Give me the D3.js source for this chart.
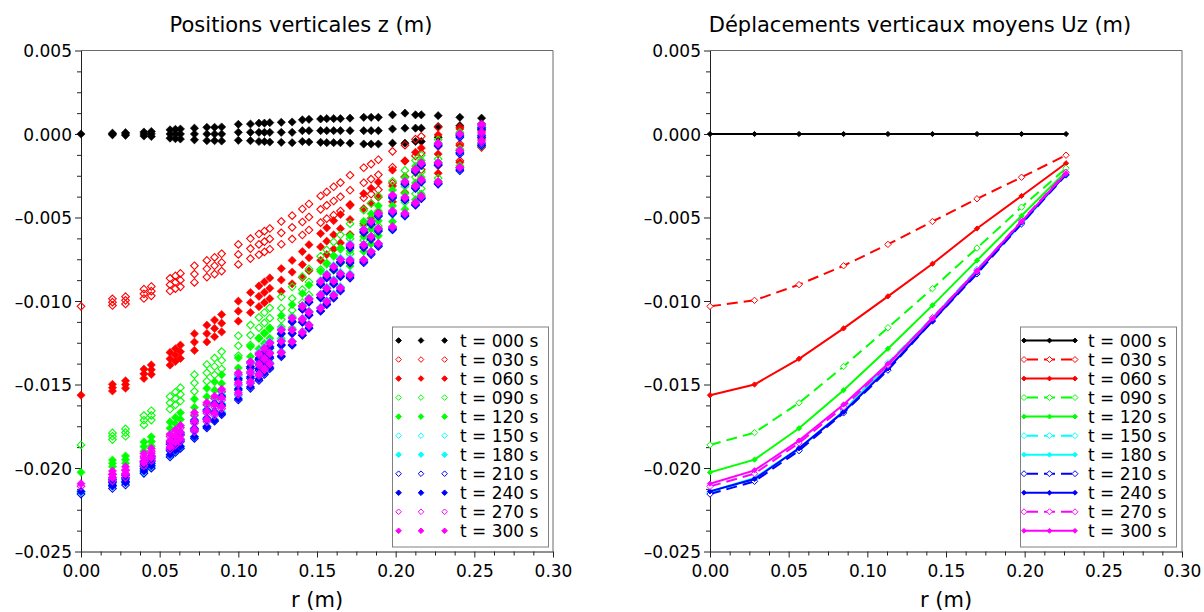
<!DOCTYPE html>
<html><head><meta charset="utf-8">
<script src="https://cdn.jsdelivr.net/npm/d3@7"></script>
<style>body{margin:0;background:#fff}svg{display:block}</style>
</head><body><svg id="c" width="1204" height="612"></svg>
<script>
// ---------- data ----------
const seriesLabels = ["t = 000 s","t = 030 s","t = 060 s","t = 090 s","t = 120 s","t = 150 s","t = 180 s","t = 210 s","t = 240 s","t = 270 s","t = 300 s"];
const xTickValues = [0,0.05,0.10,0.15,0.20,0.25,0.30];
const xTickLabels = ["0.00","0.05","0.10","0.15","0.20","0.25","0.30"];
const yTickValues = [0.005,0,-0.005,-0.010,-0.015,-0.020,-0.025];
const yTickLabels = ["0.005","0.000","–0.005","–0.010","–0.015","–0.020","–0.025"];

// left chart: radial columns (m) and vertical positions (mm): column middle and half spread
const rCols = [0,0.02,0.0283,0.04,0.0447,0.0566,0.06,0.0632,0.0721,0.08,0.0849,0.0894,0.1,0.1077,0.1131,0.1166,0.12,0.1273,0.1342,0.1407,0.1449,0.1523,0.1562,0.1606,0.1649,0.171,0.1797,0.1844,0.189,0.198,0.2059,0.2126,0.2163,0.227,0.2408,0.2546];
const zMid000 = [0,0,0,0,0,0,0,0,0,0,0,0,0.1,0.1,0.1,0.1,0.1,0.1,0.1,0.2,0.2,0.2,0.2,0.2,0.2,0.2,0.2,0.2,0.2,0.3,0.35,0.35,0.35,0.45,0.5,0.6];
const zMid030 = [-10.32,-10.07,-9.96,-9.57,-9.41,-9.02,-8.88,-8.75,-8.39,-8.07,-7.89,-7.69,-7.21,-6.86,-6.61,-6.44,-6.28,-5.92,-5.59,-5.27,-4.97,-4.51,-4.27,-4.01,-3.76,-3.37,-2.92,-2.7,-2.44,-1.99,-1.62,-1.31,-1.14,-0.74,-0.6,-0.3];
const zMid060 = [-15.64,-15.19,-15.0,-14.36,-14.11,-13.46,-13.24,-13.04,-12.46,-11.95,-11.64,-11.33,-10.61,-10.09,-9.72,-9.48,-9.24,-8.74,-8.27,-7.82,-7.41,-6.76,-6.42,-6.04,-5.67,-5.12,-4.47,-4.15,-3.78,-3.11,-2.56,-2.1,-1.84,-1.2,-0.7,-0.2];
const zMid090 = [-18.62,-18.10,-17.88,-17.14,-16.85,-16.1,-15.84,-15.59,-14.91,-14.30,-13.92,-13.55,-12.68,-12.04,-11.6,-11.31,-11.03,-10.43,-9.85,-9.32,-8.86,-8.12,-7.74,-7.31,-6.89,-6.27,-5.46,-5.06,-4.61,-3.78,-3.13,-2.58,-2.27,-1.5,-0.9,-0.2];
const zMid120 = [-20.26,-19.72,-19.5,-18.72,-18.41,-17.62,-17.35,-17.09,-16.37,-15.73,-15.34,-14.94,-14.01,-13.33,-12.86,-12.54,-12.23,-11.55,-10.92,-10.33,-9.83,-9.02,-8.6,-8.14,-7.68,-7.0,-6.13,-5.68,-5.2,-4.3,-3.56,-2.93,-2.59,-1.7,-1.0,-0.2];
const zMid150 = [-21.46,-20.9,-20.66,-19.94,-19.64,-18.9,-18.63,-18.37,-17.66,-17.02,-16.6,-16.14,-15.05,-14.26,-13.7,-13.37,-13.05,-12.34,-11.69,-11.07,-10.64,-9.58,-9.18,-8.73,-8.29,-7.47,-6.61,-6.14,-5.69,-4.7,-3.9,-3.23,-2.85,-1.85,-1.15,-0.1];
const zMid180 = [-21.4,-20.84,-20.6,-19.86,-19.56,-18.8,-18.54,-18.28,-17.6,-16.98,-16.6,-16.14,-15.1,-14.33,-13.8,-13.45,-13.12,-12.39,-11.71,-11.07,-10.65,-9.61,-9.23,-8.8,-8.38,-7.56,-6.69,-6.22,-5.77,-4.8,-3.97,-3.25,-2.86,-1.8,-1.1,-0.1];
const zMid210 = [-21.56,-21.03,-20.8,-20.04,-19.73,-18.96,-18.69,-18.43,-17.73,-17.1,-16.7,-16.29,-15.33,-14.63,-14.14,-13.78,-13.43,-12.66,-11.95,-11.27,-10.85,-9.81,-9.42,-8.98,-8.55,-7.73,-6.81,-6.32,-5.83,-4.78,-3.96,-3.26,-2.88,-1.85,-1.2,-0.2];
const zMid240 = [-21.4,-20.88,-20.66,-19.9,-19.59,-18.82,-18.56,-18.31,-17.63,-17.02,-16.64,-16.22,-15.25,-14.54,-14.04,-13.69,-13.35,-12.61,-11.92,-11.27,-10.84,-9.78,-9.38,-8.93,-8.49,-7.66,-6.74,-6.24,-5.75,-4.7,-3.89,-3.2,-2.82,-1.8,-1.1,-0.1];
const zMid270 = [-21.1,-20.57,-20.34,-19.58,-19.27,-18.5,-18.24,-17.99,-17.32,-16.72,-16.34,-15.93,-14.99,-14.32,-13.84,-13.49,-13.15,-12.41,-11.72,-11.07,-10.65,-9.62,-9.23,-8.8,-8.37,-7.56,-6.64,-6.14,-5.65,-4.6,-3.79,-3.1,-2.72,-1.7,-1.0,0.0];
const zMid300 = [-20.94,-20.38,-20.14,-19.41,-19.11,-18.36,-18.1,-17.85,-17.18,-16.58,-16.2,-15.8,-14.89,-14.23,-13.76,-13.43,-13.11,-12.4,-11.74,-11.13,-10.7,-9.64,-9.25,-8.8,-8.36,-7.53,-6.63,-6.15,-5.67,-4.64,-3.83,-3.15,-2.77,-1.75,-1.0,0.1];
const zHalf000 = [0,0.05,0.08,0.12,0.15,0.25,0.28,0.3,0.35,0.4,0.4,0.42,0.48,0.5,0.55,0.55,0.58,0.6,0.62,0.65,0.68,0.7,0.72,0.72,0.72,0.75,0.8,0.8,0.8,0.85,0.9,0.8,0.8,0.65,0.5,0.35];
const zHalfMoved = [0,0.2,0.22,0.28,0.28,0.38,0.38,0.4,0.5,0.5,0.5,0.52,0.6,0.6,0.62,0.62,0.62,0.68,0.7,0.78,0.78,0.8,0.8,0.85,0.85,0.9,0.9,0.9,0.9,0.95,0.95,1.0,1.0,1.15,1.0,0.5];

// right chart: ring centres (m) and mean vertical displacement (mm)
const rBins = [0,0.0283,0.0566,0.0849,0.1131,0.1414,0.1697,0.198,0.2263];
const uz000 = [0,0,0,0,0,0,0,0,0];
const uz030 = [-10.32,-9.96,-9.02,-7.89,-6.61,-5.24,-3.88,-2.59,-1.27];
const uz060 = [-15.64,-15.0,-13.46,-11.64,-9.72,-7.77,-5.66,-3.71,-1.75];
const uz090 = [-18.62,-17.88,-16.1,-13.92,-11.6,-9.26,-6.83,-4.38,-2.05];
const uz120 = [-20.26,-19.5,-17.62,-15.34,-12.86,-10.26,-7.57,-4.9,-2.25];
const uz150 = [-21.46,-20.66,-18.9,-16.6,-13.7,-11.0,-8.1,-5.3,-2.45];
const uz180 = [-21.4,-20.6,-18.8,-16.6,-13.8,-11.0,-8.2,-5.4,-2.4];
const uz210 = [-21.56,-20.8,-18.96,-16.7,-14.14,-11.2,-8.37,-5.38,-2.45];
const uz240 = [-21.4,-20.66,-18.82,-16.64,-14.04,-11.2,-8.3,-5.3,-2.4];
const uz270 = [-21.1,-20.34,-18.5,-16.34,-13.84,-11.0,-8.2,-5.2,-2.3];
const uz300 = [-20.94,-20.14,-18.36,-16.2,-13.76,-11.06,-8.17,-5.24,-2.35];

// ---------- styles ----------
const colors = ["#000000","#ff0000","#ff0000","#00ff00","#00ff00","#00ffff","#00ffff","#0000ff","#0000ff","#ff00ff","#ff00ff"];
const hollow = [false,true,false,true,false,true,false,true,false,true,false];
const FONT = "DejaVu Sans, Verdana, sans-serif";

const zMids = [zMid000,zMid030,zMid060,zMid090,zMid120,zMid150,zMid180,zMid210,zMid240,zMid270,zMid300];
const uzs = [uz000,uz030,uz060,uz090,uz120,uz150,uz180,uz210,uz240,uz270,uz300];

const svg = d3.select("#c");
svg.append("rect").attr("width",1204).attr("height",612).attr("fill","#fff");
const yTop = 50.5, yBot = 551.5;
const panels = [
  {x0:81, x1:553, title:"Positions verticales z (m)", tx:301},
  {x0:710, x1:1182, title:"Déplacements verticaux moyens Uz (m)", tx:920}
];
const diamond = s => `M0,${-s}L${s},0L0,${s}L${-s},0Z`;

function drawFrame(p, x, y) {
  const g = svg.append("g");
  g.append("path").attr("d",`M${p.x0},${yTop}H${p.x1}V${yBot}`).attr("fill","none").attr("stroke","#6a6a6a").attr("stroke-width",1);
  const minorY = d3.range(0,25).map(k => 0.005 - k*0.00125).filter(v => Math.abs(Math.round(v/0.005)*0.005 - v) > 1e-7);
  const minorX = d3.range(0,25).map(k => k*0.0125).filter(v => Math.abs(Math.round(v/0.05)*0.05 - v) > 1e-7);
  const ay = g.append("g").attr("transform",`translate(${p.x0},0)`)
    .call(d3.axisLeft(y).tickValues(yTickValues).tickSize(6).tickSizeOuter(0).tickPadding(3).tickFormat((d,i)=>yTickLabels[i]));
  g.append("g").attr("transform",`translate(${p.x0},0)`)
    .call(d3.axisLeft(y).tickValues(minorY).tickSize(4).tickSizeOuter(0).tickFormat(""))
    .select(".domain").remove();
  g.append("g").attr("transform",`translate(0,${yBot})`)
    .call(d3.axisBottom(x).tickValues(xTickValues).tickSize(6).tickSizeOuter(0).tickPadding(7.5).tickFormat((d,i)=>xTickLabels[i]));
  g.append("g").attr("transform",`translate(0,${yBot})`)
    .call(d3.axisBottom(x).tickValues(minorX).tickSize(4).tickSizeOuter(0).tickFormat(""))
    .select(".domain").remove();
  g.selectAll(".domain, .tick line").attr("stroke","#222");
  g.selectAll(".tick text").attr("font-family",FONT).attr("font-size",17).attr("fill","#000");
  ay.selectAll(".tick text").attr("dy","0.36em");
  svg.append("text").attr("x",p.tx).attr("y",32).attr("text-anchor","middle")
    .attr("font-family",FONT).attr("font-size",21).text(p.title);
  svg.append("text").attr("x",(p.x0+p.x1)/2).attr("y",607).attr("text-anchor","middle")
    .attr("font-family",FONT).attr("font-size",21).text("r (m)");
}

// ----- left chart -----
{
  const p = panels[0];
  const x = d3.scaleLinear().domain([0,0.30]).range([p.x0,p.x1]);
  const y = d3.scaleLinear().domain([-0.025,0.005]).range([yBot,yTop]);
  drawFrame(p, x, y);
  const gp = svg.append("g");
  zMids.forEach((mids, s) => {
    const half = s === 0 ? zHalf000 : zHalfMoved;
    const pts = [];
    rCols.forEach((r, i) => {
      const vals = half[i] > 0 ? [mids[i] + half[i], mids[i], mids[i] - half[i]] : [mids[i]];
      vals.forEach(z => pts.push([r, z/1000]));
    });
    gp.selectAll(null).data(pts).enter().append("path")
      .attr("d", diamond(hollow[s] ? 3.8 : 4.1))
      .attr("transform", d => `translate(${x(d[0])},${y(d[1])})`)
      .attr("fill", hollow[s] ? "none" : colors[s])
      .attr("stroke", colors[s]).attr("stroke-width", hollow[s] ? 1.1 : 0.6);
  });
  const lx = p.x1 - 161, ly = yBot - 225;
  const lg = svg.append("g");
  lg.append("rect").attr("x",lx+0.5).attr("y",ly+0.5).attr("width",156).attr("height",220).attr("fill","#fff").attr("stroke","#808080");
  seriesLabels.forEach((lab, s) => {
    const cy = ly + 14 + s*19.03;
    [6.6, 29, 52.6].forEach(dx => lg.append("path").attr("d", diamond(2.8))
      .attr("transform",`translate(${lx+dx},${cy})`)
      .attr("fill", hollow[s] ? "none" : colors[s]).attr("stroke", colors[s]).attr("stroke-width",1));
    lg.append("text").attr("x",lx+68).attr("y",cy+6).attr("font-family",FONT).attr("font-size",17).text(lab);
  });
}

// ----- right chart -----
{
  const p = panels[1];
  const x = d3.scaleLinear().domain([0,0.30]).range([p.x0,p.x1]);
  const y = d3.scaleLinear().domain([-0.025,0.005]).range([yBot,yTop]);
  drawFrame(p, x, y);
  const line = d3.line().x(d => x(d[0])).y(d => y(d[1]));
  uzs.forEach((vals, s) => {
    const pts = rBins.map((r,i) => [r, vals[i]/1000]);
    const g = svg.append("g");
    g.append("path").attr("d", line(pts)).attr("fill","none").attr("stroke",colors[s])
      .attr("stroke-width", 2).attr("stroke-dasharray", hollow[s] ? "11,6" : null);
    g.selectAll(null).data(pts).enter().append("path")
      .attr("d", diamond(hollow[s] ? 3.2 : 2.6))
      .attr("transform", d => `translate(${x(d[0])},${y(d[1])})`)
      .attr("fill", hollow[s] ? "#fff" : colors[s]).attr("stroke", colors[s]).attr("stroke-width",1);
  });
  const lx = p.x1 - 162, ly = yBot - 225;
  const lg = svg.append("g");
  lg.append("rect").attr("x",lx+0.5).attr("y",ly+0.5).attr("width",156).attr("height",220).attr("fill","#fff").attr("stroke","#808080");
  seriesLabels.forEach((lab, s) => {
    const cy = ly + 14 + s*19.03;
    lg.append("line").attr("x1",lx+4).attr("x2",lx+55).attr("y1",cy).attr("y2",cy)
      .attr("stroke",colors[s]).attr("stroke-width",2).attr("stroke-dasharray", hollow[s] ? "11,6" : null)
      .attr("stroke-dashoffset", hollow[s] ? -3 : null);
    [4, 29.5, 55].forEach(dx => lg.append("path").attr("d", diamond(hollow[s] ? 3 : 2.4))
      .attr("transform",`translate(${lx+dx},${cy})`)
      .attr("fill", hollow[s] ? "#fff" : colors[s]).attr("stroke", colors[s]).attr("stroke-width",1));
    lg.append("text").attr("x",lx+68).attr("y",cy+6).attr("font-family",FONT).attr("font-size",17).text(lab);
  });
}
</script></body></html>
